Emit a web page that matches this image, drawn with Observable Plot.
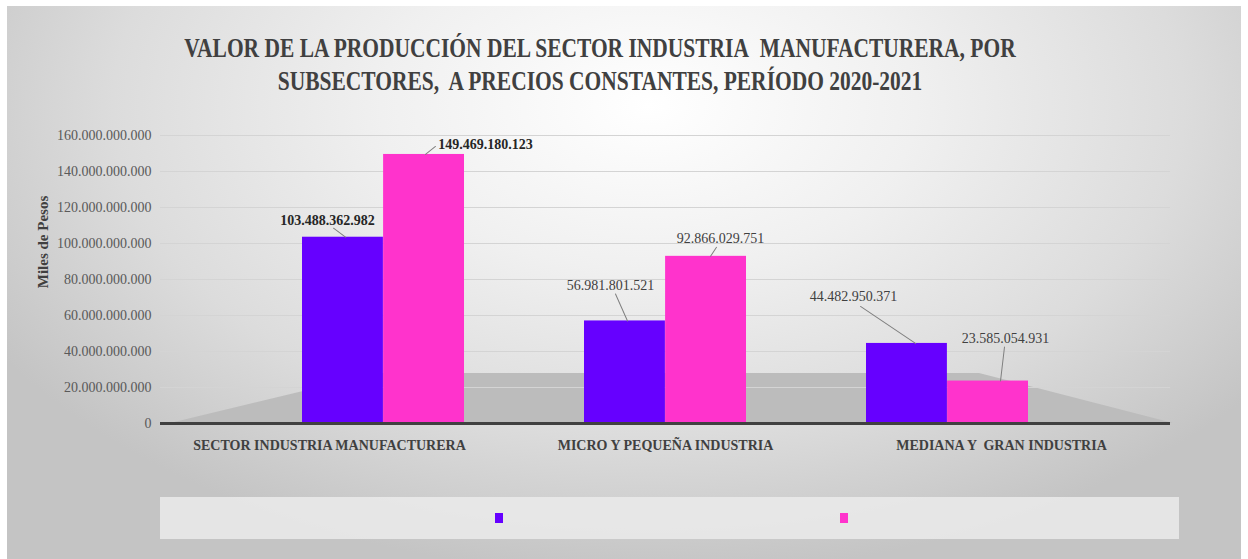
<!DOCTYPE html>
<html>
<head>
<meta charset="utf-8">
<script src="https://cdn.jsdelivr.net/npm/d3@7"></script>
<script src="https://cdn.jsdelivr.net/npm/@observablehq/plot@0.6"></script>
<style>
  html, body { margin: 0; padding: 0; background: #ffffff; }
  #wrap { position: relative; width: 1248px; height: 559px; overflow: hidden; background: #ffffff; font-family: "Liberation Serif", "Times New Roman", serif; }
  #panel { position: absolute; left: 7px; top: 6px; width: 1234px; height: 553px;
    background: radial-gradient(ellipse 62% 85% at 52% 18%, #ffffff 0%, #f0f0f0 35%, #dcdcdc 70%, #c4c4c4 100%); }
  .title { position: absolute; left: 0; width: 1200px; text-align: center; font-weight: bold; font-size: 27px; color: #404040; white-space: nowrap; transform: scaleX(0.795); transform-origin: 600px 0; }
  #ylab { position: absolute; left: 43px; top: 242px; transform: translate(-50%, -50%) rotate(-90deg); font-weight: bold; font-size: 15px; color: #404040; white-space: nowrap; }
  #floor { position: absolute; left: 0; top: 0; }
  #chart { position: absolute; left: 0; top: 120px; }
  #xaxis { position: absolute; left: 0; top: 437px; }
  #legend { position: absolute; left: 160px; top: 497px; width: 1019px; height: 42px; background: rgba(235,235,235,0.85); }
  .sw { position: absolute; top: 16px; width: 8px; height: 10px; }
</style>
</head>
<body>
<div id="wrap">
  <div id="panel"></div>
  <svg id="floor" width="1248" height="559"><polygon points="170,423 378,373 979,373 1173,423" fill="#bcbcbc"/></svg>
  <div class="title" style="top:33px">VALOR DE LA PRODUCCIÓN DEL SECTOR INDUSTRIA&nbsp; MANUFACTURERA, POR</div>
  <div class="title" style="top:66px">SUBSECTORES,&nbsp; A PRECIOS CONSTANTES, PERÍODO 2020-2021</div>
  <div id="ylab">Miles de Pesos</div>
  <div id="chart"></div>
  <div id="xaxis"></div>
  <div id="legend"></div>
</div>
<script>
// ---- data ----
const categories = ["SECTOR INDUSTRIA MANUFACTURERA", "MICRO Y PEQUEÑA INDUSTRIA", "MEDIANA Y  GRAN INDUSTRIA"];
const series = ["2020", "2021"];
const values2020 = [103488362982, 56981801521, 44482950371];
const values2021 = [149469180123, 92866029751, 23585054931];
const yTicks = [0, 20e9, 40e9, 60e9, 80e9, 100e9, 120e9, 140e9, 160e9];
const colors = ["#6600ff", "#ff33cc"];

const rows = [];
categories.forEach((c, i) => {
  rows.push({category: c, series: series[0], value: values2020[i], idx: i});
  rows.push({category: c, series: series[1], value: values2021[i], idx: i});
});

const loc = d3.formatLocale({decimal: ",", thousands: ".", grouping: [3], currency: ["", ""]});
const fmt = loc.format(",d");

const W = 1248, ML = 160, MR = 78;
const padIn = 0.426, padOut = 0.5;
const xs = d3.scaleBand().domain(categories).range([ML, W - MR]).paddingInner(padIn).paddingOuter(padOut);
const half = xs.bandwidth() / 2;
const font = "'Liberation Serif', 'Times New Roman', serif";

// label placement (pixel nudges from the band centre / bar top) and leader lines
// key: category index + series index
const labelLayout = {
  "0-0": {dx: -56, dy: -17, ax: -38, bx: -50, by: -9, bold: true},
  "0-1": {dx: 102, dy: -10, ax: 42, bx: 52, by: -8, bold: true},
  "1-0": {dx: -55, dy: -35, ax: -38, bx: -50, by: -27, bold: false},
  "1-1": {dx: 55, dy: -18, ax: 45, bx: 51, by: -9, bold: false},
  "2-0": {dx: -94, dy: -47, ax: -32, bx: -87, by: -37, bold: false},
  "2-1": {dx: 58, dy: -43, ax: 53, bx: 57, by: -34, bold: false}
};

function buildMarks(withLeaders) {
  const marks = [
    Plot.gridY(yTicks, {stroke: "#d4d4d4", strokeOpacity: 1, strokeWidth: 1}),
    Plot.axisY(yTicks, {tickSize: 0, tickPadding: 9, fontSize: 14, fill: "#595959", label: null,
      tickFormat: d => d === 0 ? "0" : fmt(d)}),
    Plot.barY(rows.filter(d => d.series === series[0]), {x: "category", y: "value", fill: "series", insetRight: half}),
    Plot.barY(rows.filter(d => d.series === series[1]), {x: "category", y: "value", fill: "series", insetLeft: half}),
    Plot.ruleY([0], {stroke: "#404040", strokeWidth: 3})
  ];
  rows.forEach(r => {
    const L = labelLayout[r.idx + "-" + series.indexOf(r.series)];
    const sub = [r];
    if (withLeaders) {
      const vx = L.bx - L.ax, vy = L.by;
      marks.push(Plot.vector(sub, {x: "category", y: "value", dx: L.ax, anchor: "start",
        length: Math.hypot(vx, vy), rotate: Math.atan2(vx, -vy) * 180 / Math.PI,
        shape: "arrow", r: 0, stroke: "#7f7f7f", strokeWidth: 1}));
    }
    marks.push(Plot.text(sub, {x: "category", y: "value", text: d => fmt(d.value),
      dx: L.dx, dy: L.dy, fontSize: 14, fontWeight: L.bold ? "bold" : "normal", fill: L.bold ? "#262626" : "#404040"}));
  });
  return marks;
}

function makeChart(withLeaders) {
  return Plot.plot({
    width: W,
    height: 340,
    marginTop: 15,
    marginBottom: 37,
    marginLeft: ML,
    marginRight: MR,
    style: {background: "transparent", fontFamily: font, overflow: "visible"},
    x: {type: "band", domain: categories, paddingInner: padIn, paddingOuter: padOut, axis: null},
    y: {domain: [0, 160e9], label: null},
    color: {domain: series, range: colors},
    marks: buildMarks(withLeaders)
  });
}
let chart;
try { chart = makeChart(true); } catch (e) { chart = makeChart(false); }
document.getElementById("chart").appendChild(chart);

// category axis (evenly spread across the full floor width)
const axis = Plot.plot({
  width: W,
  height: 30,
  marginTop: 0,
  marginBottom: 0,
  marginLeft: ML,
  marginRight: MR,
  style: {background: "transparent", fontFamily: font, overflow: "visible"},
  x: {type: "band", domain: categories, padding: 0, label: null},
  marks: [
    Plot.axisX({anchor: "top", tickSize: 0, tickPadding: 0, fontSize: 14, fontWeight: "bold", fill: "#404040", label: null, dy: 12})
  ]
});
document.getElementById("xaxis").appendChild(axis);

// legend swatches (no labels, as in the reference)
const leg = document.getElementById("legend");
const cscale = chart.scale("color");
const swX = [335, 680];
series.forEach((s, i) => {
  const d = document.createElement("div");
  d.className = "sw";
  d.style.left = swX[i] + "px";
  d.style.background = cscale.range[cscale.domain.indexOf(s)];
  leg.appendChild(d);
});
</script>
</body>
</html>
